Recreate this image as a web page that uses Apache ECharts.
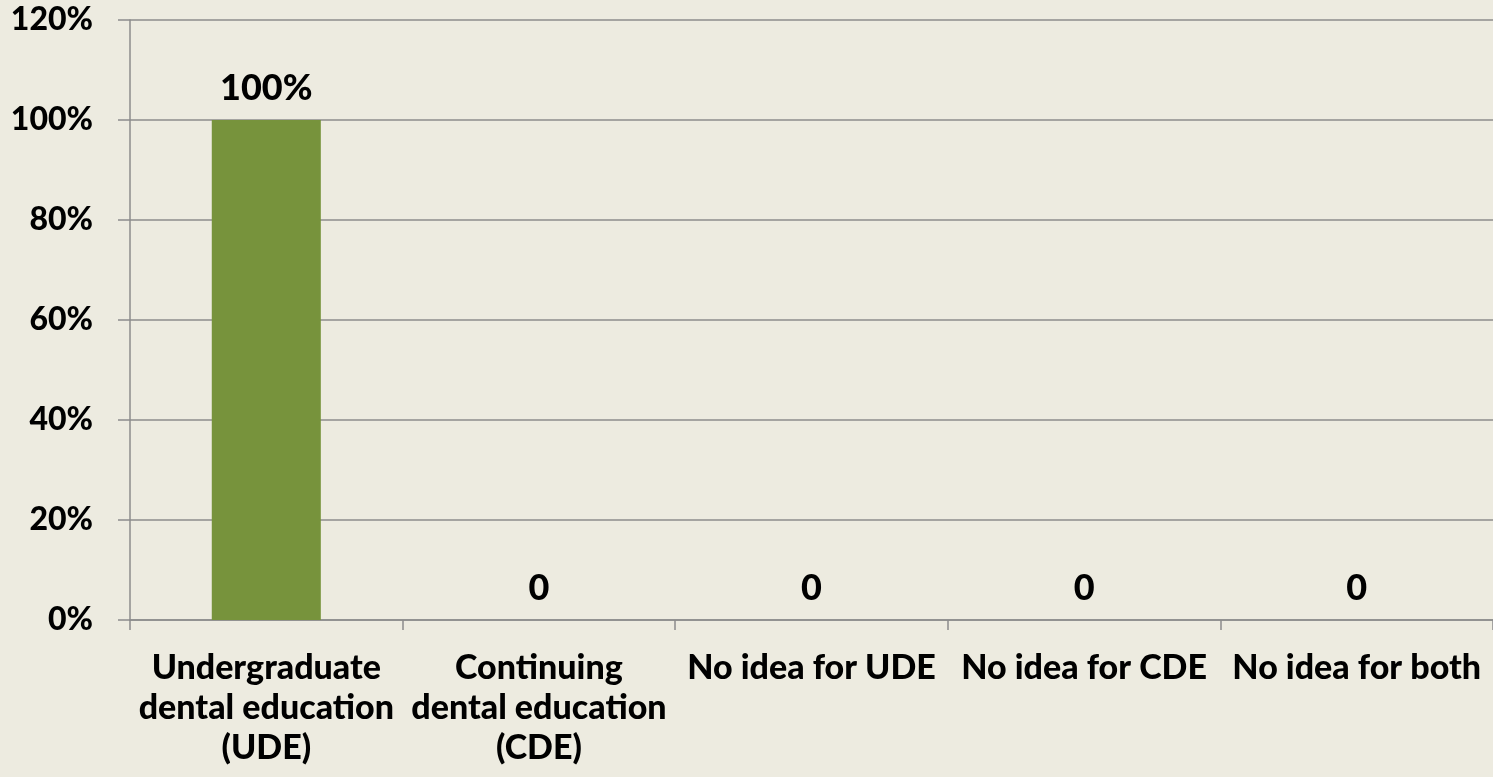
<!DOCTYPE html>
<html>
<head>
<meta charset="utf-8">
<script src="https://cdn.jsdelivr.net/npm/echarts@6/dist/echarts.min.js"></script>
<style>
html,body{margin:0;padding:0;background:#EDEBE0;}
#c{width:1493px;height:777px;}
</style>
</head>
<body>
<div id="c"></div>
<script>
const categories = ['Undergraduate\ndental education\n(UDE)', 'Continuing\ndental education\n(CDE)', 'No idea for UDE', 'No idea for CDE', 'No idea for both'];
const values = [100, 0, 0, 0, 0];
const yTicks = { min: 0, max: 120, interval: 20 };

const font = 'Lato, "Open Sans", sans-serif';
const chart = echarts.init(document.getElementById('c'), null, { renderer: 'canvas' });
chart.setOption({
  backgroundColor: '#EDEBE0',
  animation: false,
  grid: { left: 130, right: 0, top: 20, bottom: 157, containLabel: false },
  xAxis: {
    type: 'category',
    data: categories,
    axisLine: { show: true, lineStyle: { color: '#8C8C8C', width: 1.5 } },
    axisTick: { show: true, length: 10, lineStyle: { color: '#8C8C8C', width: 1.5 } },
    axisLabel: { color: '#000', fontFamily: font, fontWeight: 900, fontSize: 34, lineHeight: 40, margin: 28, interval: 0 }
  },
  yAxis: {
    type: 'value',
    min: yTicks.min, max: yTicks.max, interval: yTicks.interval,
    axisLine: { show: true, lineStyle: { color: '#8C8C8C', width: 1.5 } },
    axisTick: { show: true, length: 12, lineStyle: { color: '#8C8C8C', width: 1.5 } },
    splitLine: { show: true, lineStyle: { color: '#8C8C8C', width: 1.5 } },
    axisLabel: { color: '#000', fontFamily: font, fontWeight: 900, fontSize: 32, margin: 37, formatter: v => v + '%' }
  },
  series: [{
    type: 'bar',
    data: values,
    barWidth: '40%',
    itemStyle: { color: '#77933C' },
    label: {
      show: true, position: 'top', distance: 14,
      color: '#000', fontFamily: font, fontWeight: 900, fontSize: 36,
      formatter: p => p.value === 0 ? '0' : p.value + '%'
    }
  }]
});
</script>
</body>
</html>
